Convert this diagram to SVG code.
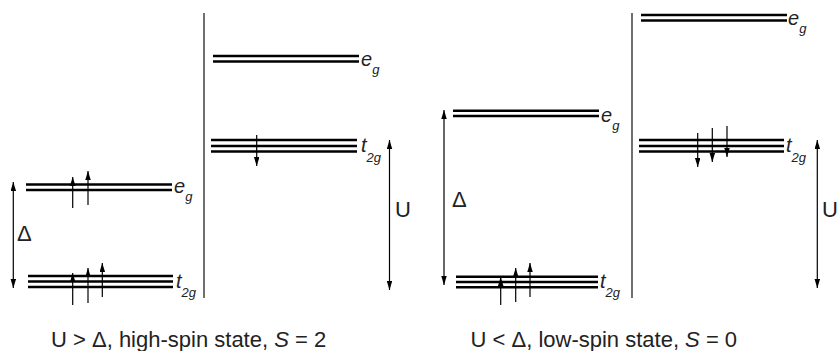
<svg xmlns="http://www.w3.org/2000/svg" width="838" height="351" viewBox="0 0 838 351">
<defs>
<marker id="ah" markerUnits="userSpaceOnUse" markerWidth="10" markerHeight="6" refX="9" refY="2.75" orient="auto-start-reverse">
<path d="M0,0 L9,2.75 L0,5.5 z" fill="#000"/>
</marker>
</defs>
<style>
.lvl{stroke:#000;stroke-width:2.5;fill:none}
.sep{stroke:#222;stroke-width:1.3;fill:none}
.arr{stroke:#000;stroke-width:1.2;fill:none;marker-end:url(#ah)}
.darr{stroke:#000;stroke-width:1.2;fill:none;marker-end:url(#ah);marker-start:url(#ah)}
.lab{font-family:"Liberation Sans",Arial,sans-serif;font-style:italic;fill:#222;font-size:20px}
.sub{font-size:13px}
.big{font-family:"Liberation Sans",Arial,sans-serif;font-size:22px;fill:#222}
.cap{font-family:"Liberation Sans",Arial,sans-serif;font-size:22px;fill:#222}
</style>
<g id="separators">
<line class="sep" x1="204" y1="13" x2="204" y2="298"/>
<line class="sep" x1="632" y1="13" x2="632" y2="298"/>
</g>
<g id="left-eg">
<line class="lvl" x1="26" y1="184.5" x2="172" y2="184.5"/>
<line class="lvl" x1="26" y1="190" x2="172" y2="190"/>
<text class="lab" x="174" y="193">e<tspan class="sub" dy="8">g</tspan></text>
</g>
<g id="left-t2g">
<line class="lvl" x1="28" y1="276" x2="173" y2="276"/>
<line class="lvl" x1="28" y1="281.5" x2="173" y2="281.5"/>
<line class="lvl" x1="28" y1="287" x2="173" y2="287"/>
<text class="lab" x="176" y="288">t<tspan class="sub" dy="9">2g</tspan></text>
</g>
<g id="mid-eg">
<line class="lvl" x1="213" y1="56" x2="359" y2="56"/>
<line class="lvl" x1="213" y1="61.5" x2="359" y2="61.5"/>
<text class="lab" x="361" y="66">e<tspan class="sub" dy="8">g</tspan></text>
</g>
<g id="mid-t2g">
<line class="lvl" x1="211" y1="140" x2="357" y2="140"/>
<line class="lvl" x1="211" y1="146" x2="357" y2="146"/>
<line class="lvl" x1="211" y1="151.5" x2="357" y2="151.5"/>
<text class="lab" x="361" y="151.5">t<tspan class="sub" dy="10">2g</tspan></text>
</g>
<g id="right-eg">
<line class="lvl" x1="453" y1="110.7" x2="599" y2="110.7"/>
<line class="lvl" x1="453" y1="116" x2="599" y2="116"/>
<text class="lab" x="601" y="121.5">e<tspan class="sub" dy="8">g</tspan></text>
</g>
<g id="right-t2g">
<line class="lvl" x1="456" y1="276.7" x2="598" y2="276.7"/>
<line class="lvl" x1="456" y1="282" x2="598" y2="282"/>
<line class="lvl" x1="456" y1="287.3" x2="598" y2="287.3"/>
<text class="lab" x="600" y="288">t<tspan class="sub" dy="9">2g</tspan></text>
</g>
<g id="far-eg">
<line class="lvl" x1="641" y1="15" x2="787" y2="15"/>
<line class="lvl" x1="641" y1="20.5" x2="787" y2="20.5"/>
<text class="lab" x="788" y="25">e<tspan class="sub" dy="8">g</tspan></text>
</g>
<g id="far-t2g">
<line class="lvl" x1="639" y1="140" x2="784" y2="140"/>
<line class="lvl" x1="639" y1="146" x2="784" y2="146"/>
<line class="lvl" x1="639" y1="151.5" x2="784" y2="151.5"/>
<text class="lab" x="786" y="152">t<tspan class="sub" dy="10">2g</tspan></text>
</g>
<g id="connectors">
<line class="arr" x1="72.7" y1="208" x2="72.7" y2="177"/>
<line class="arr" x1="88" y1="205" x2="88" y2="171"/>
<line class="arr" x1="72.7" y1="305" x2="72.7" y2="273"/>
<line class="arr" x1="88" y1="303" x2="88" y2="268"/>
<line class="arr" x1="102.3" y1="297" x2="102.3" y2="263"/>
<line class="arr" x1="256.7" y1="135" x2="256.7" y2="166"/>
<line class="arr" x1="500.7" y1="305" x2="500.7" y2="277"/>
<line class="arr" x1="515.7" y1="302" x2="515.7" y2="268"/>
<line class="arr" x1="530" y1="297" x2="530" y2="263"/>
<line class="arr" x1="697.7" y1="133" x2="697.7" y2="167"/>
<line class="arr" x1="712.3" y1="128" x2="712.3" y2="162"/>
<line class="arr" x1="727" y1="126" x2="727" y2="157"/>
<line class="darr" x1="13.3" y1="182" x2="13.3" y2="288"/>
<line class="darr" x1="389.5" y1="140" x2="389.5" y2="290"/>
<line class="darr" x1="444" y1="110" x2="444" y2="285"/>
<line class="darr" x1="817.3" y1="140" x2="817.3" y2="288"/>
</g>
<g id="gap-labels">
<text class="big" x="17" y="241">Δ</text>
<text class="big" x="452" y="207">Δ</text>
<text class="big" x="395" y="216.5">U</text>
<text class="big" x="822" y="216.5">U</text>
</g>
<g id="captions">
<text class="cap" x="51" y="346.5">U &gt; Δ, high-spin state, <tspan font-style="italic">S</tspan> = 2</text>
<text class="cap" x="470.5" y="346.5">U &lt; Δ, low-spin state, <tspan font-style="italic">S</tspan> = 0</text>
</g>
</svg>
